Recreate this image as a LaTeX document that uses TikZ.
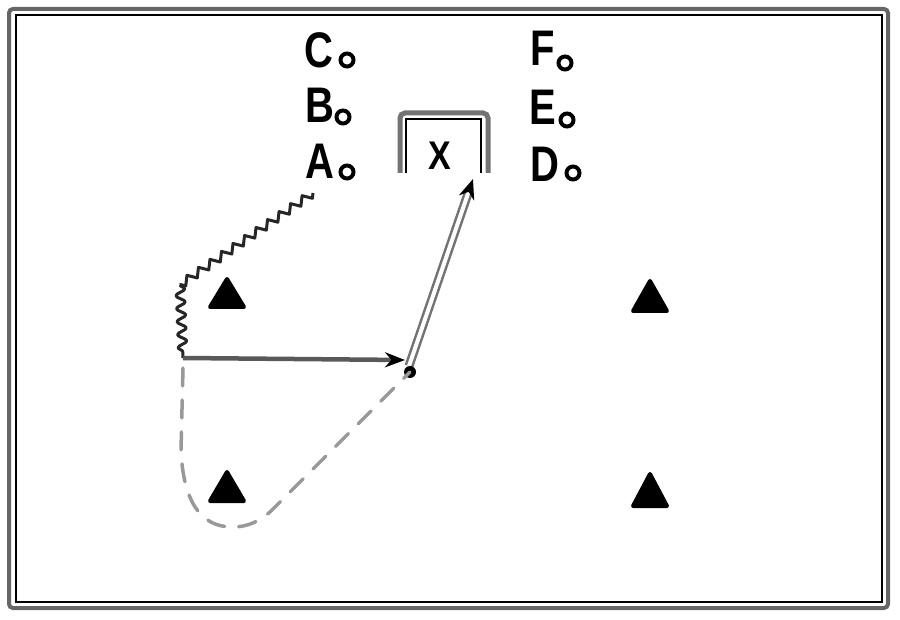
\documentclass[tikz,border=0pt]{standalone}
\usepackage{fontspec}
\setmainfont{Liberation Sans}
\usetikzlibrary{decorations.pathmorphing,arrows.meta}
\begin{document}
\begin{tikzpicture}[x=1pt,y=-1pt,
  lbl/.style={font=\fontsize{50}{50}\selectfont\bfseries, inner sep=0pt},
  ring/.style={circle, draw=black, line width=4pt, fill=white, minimum size=13pt, inner sep=0pt},
  tri/.style={fill=black, draw=black, line width=4pt, line join=round},
  zig/.style={draw=black!85, line width=3pt, line join=round, decorate, decoration={zigzag, segment length=14pt, amplitude=4pt}},
  wav/.style={draw=black!85, line width=3pt, line join=round, decorate, decoration={snake, segment length=13pt, amplitude=4.5pt}},
  runarr/.style={draw=black!65, line width=4.5pt, -{Stealth[length=20pt,width=15pt,black]}},
  passarr/.style={draw=black!55, double=white, double distance=4pt, line width=2.5pt, -{Stealth[length=20pt,width=16pt,black]}},
  dashpath/.style={draw=black!40, line width=3.5pt, dash pattern=on 18pt off 14pt, line cap=round}
]
\useasboundingbox (0,0) rectangle (900,620);
% frame
\draw[black!60, line width=4pt, rounded corners=4pt] (9,9) rectangle (888,608);
\draw[black, line width=1.8pt] (16,15) rectangle (882,602);
% labels
\node[lbl] (C) at (319,50) {\scalebox{0.8}[1]{C}};
\node[lbl] (B) at (320,105) {\scalebox{0.8}[1]{B}};
\node[lbl] (A) at (320,161) {\scalebox{0.8}[1]{A}};
\node[lbl] (F) at (543,48) {\scalebox{0.8}[1]{F}};
\node[lbl] (E) at (543,107) {\scalebox{0.8}[1]{E}};
\node[lbl] (D) at (545,164) {\scalebox{0.8}[1]{D}};
\node[ring] (cc) at (347,60) {};
\node[ring] (cb) at (343,117) {};
\node[ring] (ca) at (347,172) {};
\node[ring] (cf) at (565,63) {};
\node[ring] (ce) at (567,120) {};
\node[ring] (cd) at (573,173) {};
% goal bracket
\draw[black!55, line width=5pt, rounded corners=5pt] (400,173) -- (400,113) -- (488,113) -- (488,173);
\draw[black, line width=1.6pt] (406,173) -- (406,119) -- (481,119) -- (481,173);
\node[font=\fontsize{40}{40}\selectfont\bfseries, inner sep=0pt] (X) at (440,156) {\scalebox{0.85}[1]{X}};
% cones
\foreach \n/\cx/\ty/\by in {t1/227/279/307, t2/650/281/311, t3/227/472/501, t4/650/474/506}{
  \fill[tri] (\cx,\ty) -- (\cx+17,\by) -- (\cx-17,\by) -- cycle;
  \coordinate (\n) at (\cx,\by);
}
% path coordinates
\coordinate (z0) at (313,193);
\coordinate (z1) at (180,285);
\coordinate (p0) at (183,358);
\coordinate (p1) at (405,360);
\coordinate (q0) at (409,366);
\coordinate (g) at (473,179);
\coordinate (dd) at (183,368);
\coordinate (m) at (410,372);
% zigzag dribble
\draw[zig] (z0) -- (z1);
\draw[wav] (z1) -- (p0);
% run arrow
\draw[runarr] (p0) -- (p1);
% pass to goal
\draw[passarr] (q0) -- (g);
% dot
\fill[black] (m) circle (6pt);
% dashed run
\draw[dashpath] (dd) -- (181,450) .. controls (183,500) and (200,527) .. (232,527) .. controls (250,527) and (260,520) .. (270,512) -- (m);
\end{tikzpicture}
\end{document}
